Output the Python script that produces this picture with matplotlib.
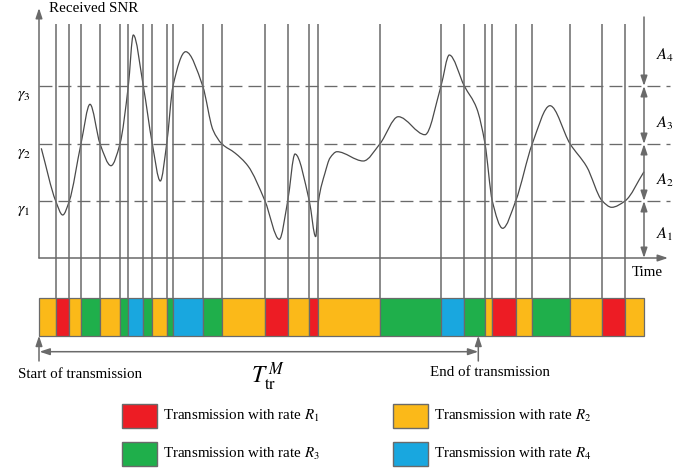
import numpy as np
import matplotlib
matplotlib.use('Agg')
import matplotlib.pyplot as plt
from matplotlib.path import Path
from matplotlib.patches import PathPatch, Rectangle

plt.rcParams['font.family'] = ['Liberation Serif', 'DejaVu Serif']
plt.rcParams['mathtext.fontset'] = 'stix'

# ---------------- data (arbitrary time / SNR units) ----------------
thresholds = [57, 114, 172]                      # gamma_1, gamma_2, gamma_3
threshold_labels = [r'$\gamma_1$', r'$\gamma_2$', r'$\gamma_3$']
region_labels = [r'$A_1$', r'$A_2$', r'$A_3$', r'$A_4$']

# received SNR curve (time, SNR)
snr_t = [2.3, 16.7, 23.7, 30.3, 42, 51, 61, 72, 81, 89.3, 94.3, 104.3, 113.3,
         121.3, 127.7, 134, 146.7, 163.7, 174, 182.7, 196, 209, 226, 240.3,
         248.7, 256, 270.3, 276.7, 279.5, 286, 291, 298, 324.3, 341, 359.3,
         386, 402, 410.3, 425.3, 437.7, 446, 453.3, 463.7, 476.7, 493.3, 511,
         531, 547.7, 563.3, 572.7, 586, 605]
snr_v = [109.7, 57, 43, 57, 114.3, 153.7, 114.3, 92.3, 114.3, 172, 223, 172,
         114.3, 77, 114.3, 172, 206.3, 172, 128, 114.3, 105, 92, 57, 18.7,
         57, 104, 57, 21.3, 57, 85, 100, 106.3, 97, 114.3, 141.3,
         123.3, 172, 203, 172, 149.7, 114.3, 57, 29.7, 57, 114.3, 152.3,
         114.3, 91.3, 57, 50.7, 57, 86.3]

# rate switching instants and the rate used in each interval
boundaries = [0, 16.7, 30.3, 42, 61, 81, 89.3, 104.3, 113.3, 127.7, 134, 163.7,
              182.7, 226, 248.7, 270.3, 278.7, 341, 402, 425.3, 446, 453.3,
              476.7, 493.3, 531, 563.3, 586, 605]
segment_rate = [2, 1, 2, 3, 2, 3, 4, 3, 2, 3, 4, 3, 2, 1, 2, 1, 2, 3, 4, 3, 2,
                1, 2, 3, 2, 1, 2]
end_of_transmission = 439.3

rate_names = ['R1', 'R2', 'R3', 'R4']
legend_texts = [r'Transmission with rate $R_{1}$', r'Transmission with rate $R_{2}$',
                r'Transmission with rate $R_{3}$', r'Transmission with rate $R_{4}$']
rate_colors = {1: '#ED1C24', 2: '#FBB919', 3: '#1FAF4B', 4: '#19A7DF'}

# ---------------- figure ----------------
gray = '#6a6a6a'
fig = plt.figure(figsize=(6.94, 4.71), dpi=100)
ax = fig.add_axes([0, 0, 1, 1])
ax.set_xlim(-39, 655)
ax.set_ylim(-213, 258)
ax.axis('off')

FS = 10.8

def arrow(p_from, p_to, style='-|>'):
    ax.annotate('', xy=p_to, xytext=p_from,
                arrowprops=dict(arrowstyle=style + ',head_length=0.6,head_width=0.2',
                                color=gray, lw=1.1, shrinkA=0, shrinkB=0))

# axes
arrow((0, 0), (0, 250))
arrow((0, 0), (629, 0))
ax.text(10, 249, 'Received SNR', fontsize=FS, ha='left', va='center')
ax.text(593, -14, 'Time', fontsize=FS, ha='left', va='center')

# thresholds
for th, lab in zip(thresholds, threshold_labels):
    ax.plot([0, 631], [th, th], color=gray, lw=0.95,
            linestyle=(0, (9.8, 4.6)))
    ax.text(-15, th - 9, lab, fontsize=FS + 1, ha='center', va='center')

# switching instants
bar_top, bar_bot = -40.3, -77.7
ax.vlines(boundaries[1:-1], bar_top, 234, colors=gray, lw=1.1)

# SNR curve via PCHIP-style Bezier path
def pchip_path(x, y):
    x = np.asarray(x, float); y = np.asarray(y, float)
    h = np.diff(x); d = np.diff(y) / h
    m = np.zeros_like(y)
    for i in range(1, len(x) - 1):
        if d[i - 1] * d[i] > 0:
            w1 = 2 * h[i] + h[i - 1]; w2 = h[i] + 2 * h[i - 1]
            m[i] = (w1 + w2) / (w1 / d[i - 1] + w2 / d[i])
    m[0] = d[0]; m[-1] = d[-1]
    verts = [(x[0], y[0])]; codes = [Path.MOVETO]
    for i in range(len(x) - 1):
        verts += [(x[i] + h[i] / 3, y[i] + m[i] * h[i] / 3),
                  (x[i + 1] - h[i] / 3, y[i + 1] - m[i + 1] * h[i] / 3),
                  (x[i + 1], y[i + 1])]
        codes += [Path.CURVE4] * 3
    return Path(verts, codes)

ax.add_patch(PathPatch(pchip_path(snr_t, snr_v), facecolor='none',
                       edgecolor='#4a4a4a', lw=0.9))

# region arrows on the right
t_end = boundaries[-1]
arrow((t_end, 241), (t_end, thresholds[2]))
levels = [0] + thresholds
for lo, hi in zip(levels[:-1], levels[1:]):
    arrow((t_end, lo), (t_end, hi), style='<|-|>')
region_y = [24, 78, 135, 203]
for ry, lab in zip(region_y, region_labels):
    ax.text(617, ry, lab, fontsize=FS + 1, ha='left', va='center')

# transmission bar
lefts = np.array(boundaries[:-1]); widths = np.diff(boundaries)
ax.bar(lefts, bar_top - bar_bot, width=widths, bottom=bar_bot, align='edge',
       color=[rate_colors[r] for r in segment_rate], edgecolor=gray, lw=0.9)

# start / end arrows
arrow((0, -103), (0, bar_bot))
arrow((end_of_transmission, -103), (end_of_transmission, bar_bot))
arrow((0.5, -93.7), (end_of_transmission, -93.7), style='<|-|>')
ax.text(-21, -116, 'Start of transmission', fontsize=FS, ha='left', va='center')
ax.text(391, -115, 'End of transmission', fontsize=FS, ha='left', va='center')
ax.text(229, -119, r'$T_{\mathrm{tr}}^{\,M}$', fontsize=17, ha='center', va='center')

# legend
leg_box_x = [82.7, 353.7, 82.7, 353.7]
leg_box_y = [-170.3, -170.3, -208, -208]
for i, (bx, by) in enumerate(zip(leg_box_x, leg_box_y)):
    ax.add_patch(Rectangle((bx, by), 35.6, 24.5, facecolor=rate_colors[i + 1],
                           edgecolor=gray, lw=1.0))
    ax.text(bx + 41.5, by + 12.2, legend_texts[i], fontsize=FS, ha='left', va='center')

fig.savefig('out.png', dpi=100)
